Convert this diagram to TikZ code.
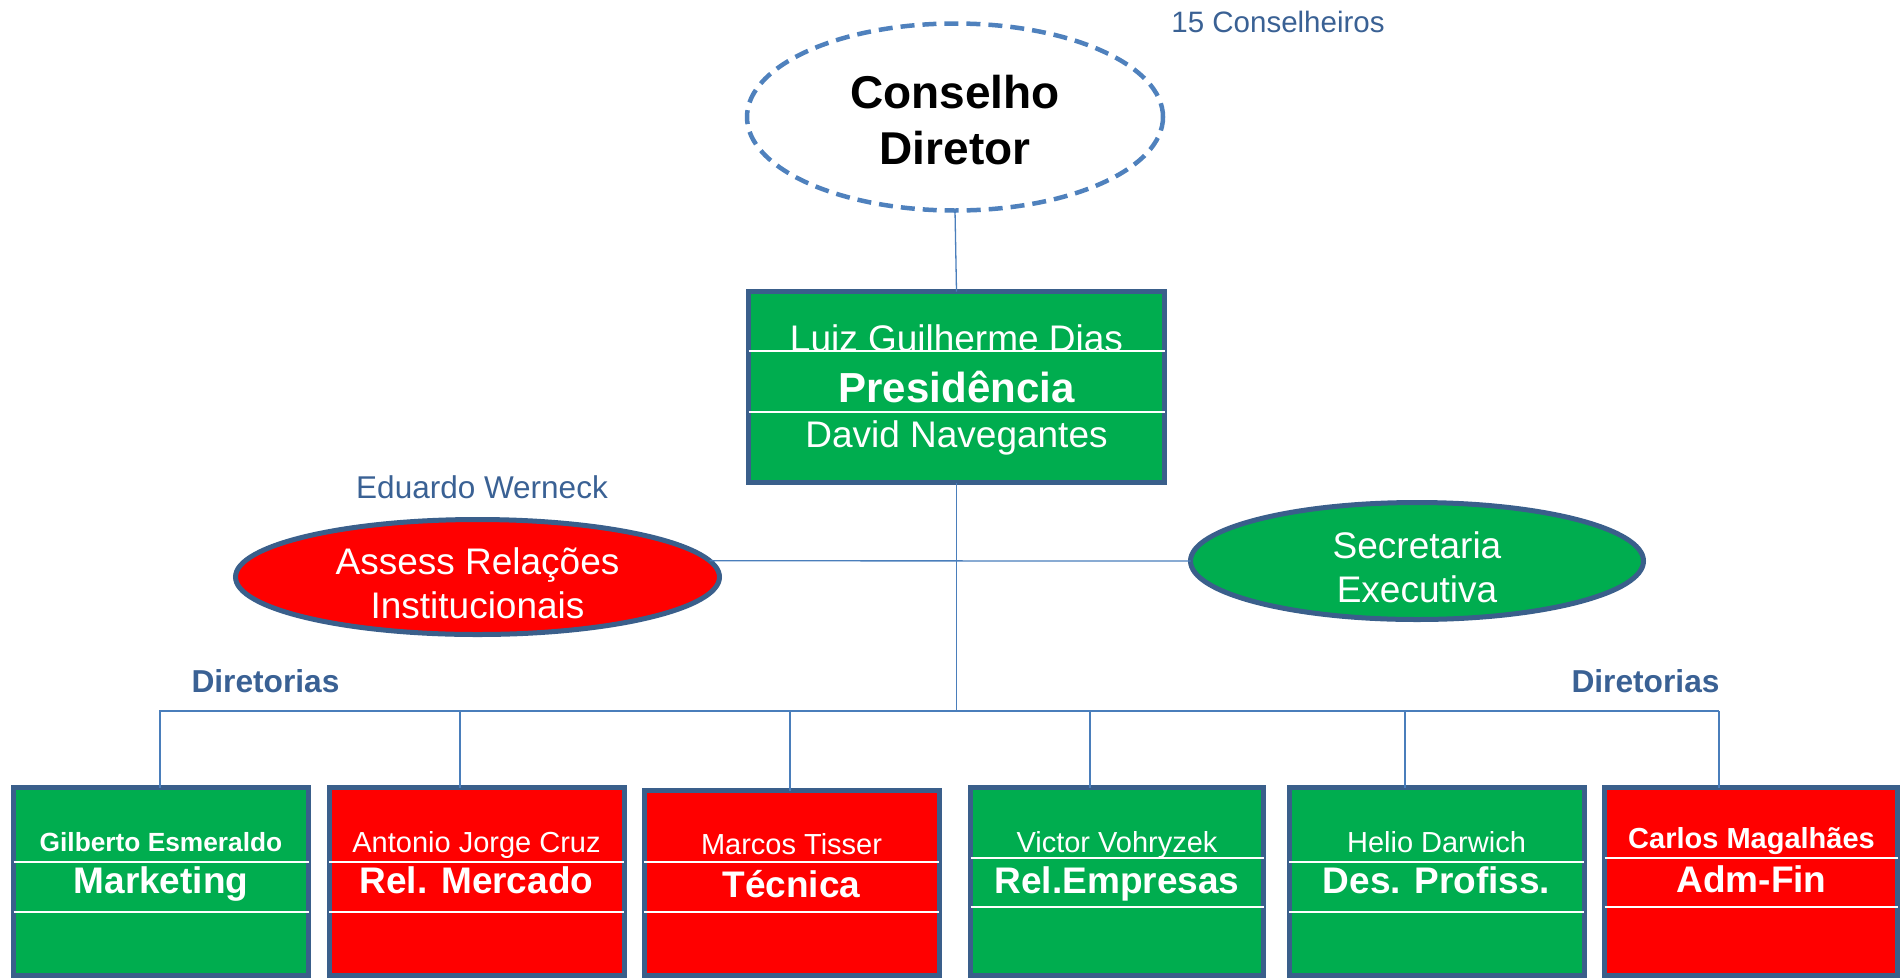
\documentclass[tikz,border=0pt]{standalone}
\usepackage{fontspec}
\setmainfont{Liberation Sans}
\usepackage{tikz}
\usetikzlibrary{shapes.geometric}

\definecolor{verde}{HTML}{00AD4F}
\definecolor{vermelho}{HTML}{FF0000}
\definecolor{contorno}{HTML}{3A5F8B}
\definecolor{linha}{HTML}{4A7EBB}
\definecolor{tracejado}{HTML}{4F81BD}
\definecolor{azultexto}{HTML}{3A6194}

\tikzstyle{every node}=[inner sep=0pt, outer sep=0pt]
\tikzstyle{caixa}=[rectangle, draw=contorno, line width=5pt, minimum width=295pt, minimum height=188pt]
\tikzstyle{oval}=[ellipse, draw=contorno, line width=5pt]
\tikzstyle{ovaltexto}=[text=white, align=center, font=\fontsize{37}{44}\selectfont]
\tikzstyle{conector}=[draw=linha, line width=1.3pt]
\tikzstyle{divisa}=[draw=white, line width=2pt]
\tikzstyle{nome}=[anchor=base, text=white, font=\fontsize{29}{34}\selectfont]
\tikzstyle{cargo}=[anchor=base, text=white, font=\bfseries\fontsize{37}{44}\selectfont]
\tikzstyle{rotulo}=[anchor=base, text=azultexto]

\begin{document}
\begin{tikzpicture}[x=1pt, y=-1pt]
        \useasboundingbox (0,0) rectangle (1903,978);

        % conselho e presidencia
        \node [ellipse, draw=tracejado, line width=4.5pt, dash pattern=on 14pt off 8pt,
               minimum width=416pt, minimum height=187pt] (conselho) at (955,117) {};
        \node [align=center, font=\bfseries\fontsize{46}{56}\selectfont] (conselhotxt) at (955,120) {Conselho\\Diretor};
        \node [rotulo, font=\fontsize{29.5}{34}\selectfont] (conselheiros) at (1278,32) {15 Conselheiros};

        \node [caixa, fill=verde, minimum width=416pt, minimum height=191pt] (pres) at (956.5,387) {};
        \node [nome, font=\fontsize{37}{44}\selectfont] (presnome) at (956.5,351) {Luiz Guilherme Dias};
        \node [cargo, font=\bfseries\fontsize{42}{48}\selectfont] (prescargo) at (956.5,402) {Presidência};
        \node [nome, font=\fontsize{37}{44}\selectfont] (presvice) at (956.5,447) {David Navegantes};
        \draw [divisa] (pres.west |- 0,351) -- (pres.east |- 0,351);
        \draw [divisa] (pres.west |- 0,412) -- (pres.east |- 0,412);

        \draw [conector] (conselho.south) -- (pres.north);

        % assessorias
        \node [oval, fill=vermelho, minimum width=484pt, minimum height=115pt] (assess) at (477.5,577) {};
        \node [ovaltexto] (assesstxt) at (477.5,583) {Assess Relações\\Institucionais};
        \node [rotulo, font=\fontsize{31.5}{36}\selectfont] (werneck) at (482,498) {Eduardo Werneck};
        \node [oval, fill=verde, minimum width=453pt, minimum height=117pt] (secr) at (1417,561) {};
        \node [ovaltexto] (secrtxt) at (1417,567) {Secretaria\\Executiva};

        \draw [conector] (assess.4) -- (secr.west);

        % diretorias
        \coordinate (busL) at (159,711);
        \coordinate (busR) at (1719,711);
        \draw [conector] (pres.south) -- (pres.south |- busL);
        \draw [conector] (busL) -- (busR);

        \node [rotulo, font=\bfseries\fontsize{31.7}{36}\selectfont] (dirL) at (265.5,692) {Diretorias};
        \node [rotulo, font=\bfseries\fontsize{31.7}{36}\selectfont] (dirR) at (1645.5,692) {Diretorias};

        \node [caixa, fill=verde] (mkt) at (161,881.5) {};
        \node [nome, font=\bfseries\fontsize{26.3}{30}\selectfont] (mktnome) at (161,851) {Gilberto Esmeraldo};
        \node [cargo] (mktcargo) at (161,893) {Marketing};
        \draw [divisa] (mkt.west |- 0,862) -- (mkt.east |- 0,862);
        \draw [divisa] (mkt.west |- 0,912) -- (mkt.east |- 0,912);

        \node [caixa, fill=vermelho] (merc) at (476.5,881.5) {};
        \node [nome] (mercnome) at (476.5,852) {Antonio Jorge Cruz};
        \node [cargo] (merccargo) at (476.5,893) {Rel. Mercado};
        \draw [divisa] (merc.west |- 0,862) -- (merc.east |- 0,862);
        \draw [divisa] (merc.west |- 0,912) -- (merc.east |- 0,912);

        \node [caixa, fill=vermelho, minimum height=185pt] (tec) at (791.5,883) {};
        \node [nome] (tecnome) at (791.5,854) {Marcos Tisser};
        \node [cargo] (teccargo) at (791.5,897) {Técnica};
        \draw [divisa] (tec.west |- 0,862) -- (tec.east |- 0,862);
        \draw [divisa] (tec.west |- 0,912) -- (tec.east |- 0,912);

        \node [caixa, fill=verde, minimum width=293pt] (emp) at (1117,881.5) {};
        \node [nome] (empnome) at (1117,852) {Victor Vohryzek};
        \node [cargo] (empcargo) at (1117,893) {Rel.Empresas};
        \draw [divisa] (emp.west |- 0,858) -- (emp.east |- 0,858);
        \draw [divisa] (emp.west |- 0,907) -- (emp.east |- 0,907);

        \node [caixa, fill=verde] (prof) at (1436.5,881.5) {};
        \node [nome] (profnome) at (1436.5,852) {Helio Darwich};
        \node [cargo] (profcargo) at (1436.5,893) {Des. Profiss.};
        \draw [divisa] (prof.west |- 0,862) -- (prof.east |- 0,862);
        \draw [divisa] (prof.west |- 0,912) -- (prof.east |- 0,912);

        \node [caixa, fill=vermelho, minimum width=293pt] (adm) at (1751,881.5) {};
        \node [nome, font=\bfseries\fontsize{29}{34}\selectfont] (admnome) at (1751.5,848) {Carlos Magalhães};
        \node [cargo] (admcargo) at (1751.5,892) {Adm-Fin};
        \draw [divisa] (adm.west |- 0,858) -- (adm.east |- 0,858);
        \draw [divisa] (adm.west |- 0,907) -- (adm.east |- 0,907);

        \coordinate (d1) at (160,711);
        \coordinate (d2) at (460,711);
        \coordinate (d3) at (790,711);
        \coordinate (d4) at (1090,711);
        \coordinate (d5) at (1405,711);
        \coordinate (d6) at (1719,711);
        \draw [conector] (d1) -- (d1 |- mkt.north);
        \draw [conector] (d2) -- (d2 |- merc.north);
        \draw [conector] (d3) -- (d3 |- tec.north);
        \draw [conector] (d4) -- (d4 |- emp.north);
        \draw [conector] (d5) -- (d5 |- prof.north);
        \draw [conector] (d6) -- (d6 |- adm.north);
    \end{tikzpicture}
\end{document}
